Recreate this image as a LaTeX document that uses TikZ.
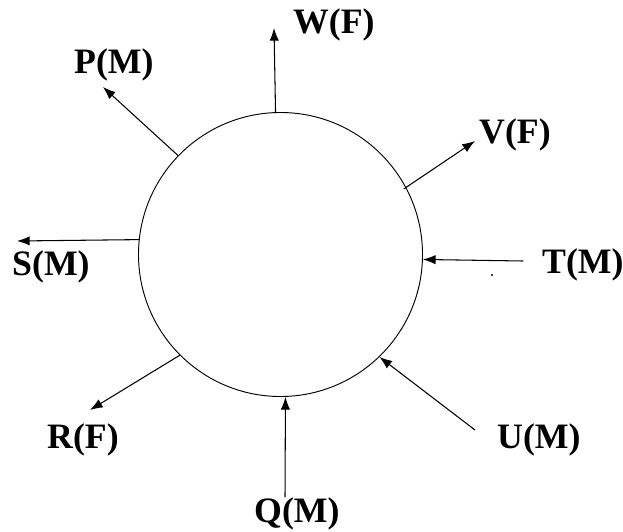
\documentclass[tikz,border=0pt]{standalone}
\usepackage{fontspec}
\setmainfont{Liberation Serif}
\usetikzlibrary{arrows.meta, calc}

\begin{document}
\begin{tikzpicture}[
    x=0.03cm, y=-0.03cm,
    >={Latex[length=3.8mm,width=2.8mm]},
    % styles for the seating circle and the person labels
    ring_node/.style={circle, draw, line width=0.8pt, minimum size=8.52cm, inner sep=0pt},
    who/.style={font=\fontsize{30.5}{36}\selectfont\bfseries, inner sep=0pt, anchor=base west},
    conn/.style={line width=0.9pt}
]
    \useasboundingbox (0,0) rectangle (623,531);

    % --- Circle ---
    \node[ring_node] (ring) at (280.5,254.5) {};

    % --- Person labels ---
    \node[who] (W) at (293,33) {W(F)};
    \node[who] (P) at (74,73) {P(M)};
    \node[who] (V) at (479,143) {V(F)};
    \node[who] (S) at (12,275) {S(M)};
    \node[who] (T) at (542,273) {T(M)};
    \node[who] (U) at (497,448) {U(M)};
    \node[who] (R) at (47,448) {R(F)};
    \node[who] (Q) at (254,522) {Q(M)};

    % --- Free ends of the arrows ---
    \coordinate (wEnd) at (274,28);
    \coordinate (pEnd) at (103,87);
    \coordinate (vEnd) at (475,141);
    \coordinate (sEnd) at (17,241);
    \coordinate (tEnd) at (523,261);
    \coordinate (uEnd) at (475,430);
    \coordinate (rEnd) at (90,410);
    \coordinate (qEnd) at (285,497);

    % --- Facing out ---
    \draw[conn, ->] (ring.92.6) -- (wEnd);
    \draw[conn, ->] (ring.136.4) -- (pEnd);
    \draw[conn, ->] ($(ring.center)!0.98!(ring.28.5)$) -- (vEnd);
    \draw[conn, ->] (ring.174.6) -- (sEnd);
    \draw[conn, ->] (ring.-135.8) -- (rEnd);

    % --- Facing in ---
    \draw[conn, ->] (tEnd) -- (ring.-2.6);
    \draw[conn, ->] (uEnd) -- (ring.-46.7);
    \draw[conn, ->] (qEnd) -- (ring.-88.2);

    \fill (492,275) circle (0.035cm);

\end{tikzpicture}
\end{document}
